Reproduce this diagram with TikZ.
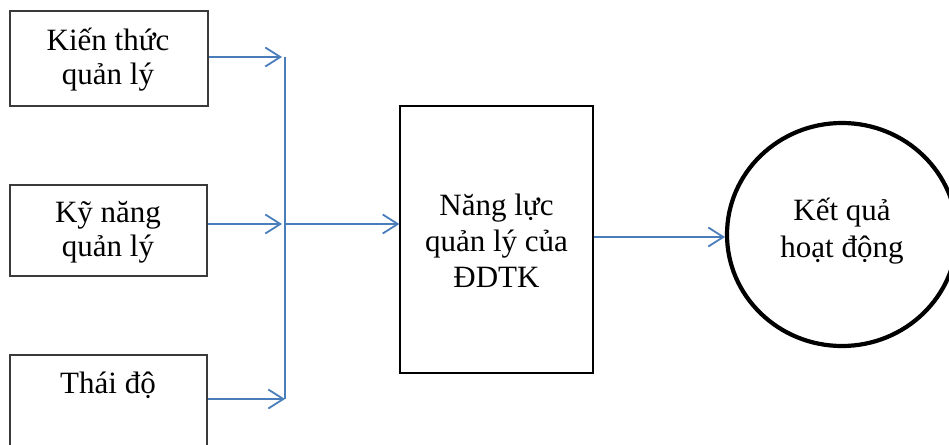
\documentclass[tikz,border=0pt]{standalone}
\usepackage{fontspec}
\setmainfont{Liberation Serif}
\usetikzlibrary{arrows.meta}
\definecolor{linkblue}{HTML}{4A7EBB}
\definecolor{boxline}{HTML}{3A3A3A}
\tikzset{
  box/.style={draw=boxline, line width=1.3pt, rectangle, inner sep=0pt},
  lbl/.style={anchor=base, inner sep=0pt, font=\fontsize{31}{35}\selectfont},
  link/.style={draw=linkblue, line width=1.8pt},
  arr/.style={link, -{Straight Barb[length=15pt,width=19pt,line width=1.8pt]}},
}
\begin{document}
\begin{tikzpicture}[x=1pt, y=-1pt]
  \useasboundingbox (0,0) rectangle (949,444);

  % input boxes
  \node[box, minimum width=198pt, minimum height=95pt] (b1) at (109,58.5) {};
  \node[box, minimum width=197pt, minimum height=91pt] (b2) at (108.5,230.5) {};
  \node[box, minimum width=197pt, minimum height=97pt] (b3) at (108.5,403.5) {};
  \node[lbl] (b1a) at (108,50) {Kiến thức};
  \node[lbl] (b1b) at (108,84) {quản lý};
  \node[lbl] (b2a) at (108,222) {Kỹ năng};
  \node[lbl] (b2b) at (108,256) {quản lý};
  \node[lbl] (b3a) at (108,393) {Thái độ};

  % central box
  \node[box, line width=1.2pt, draw=black, minimum width=193pt, minimum height=267pt] (mid) at (496.5,239.5) {};
  \node[lbl] (ma) at (496.5,215) {Năng lực};
  \node[lbl] (mb) at (496.5,251) {quản lý của};
  \node[lbl] (mc) at (496.5,287) {ĐDTK};

  % result
  \draw[line width=4.2pt] (842,234.5) ellipse [x radius=115, y radius=111.5];
  \coordinate (res) at (727,237);
  \node[lbl] (ra) at (842,220) {Kết quả};
  \node[lbl] (rb) at (842,257) {hoạt động};

  % collecting bus
  \coordinate (bt) at (285,57);
  \coordinate (bm) at (285,224);
  \coordinate (bb) at (285,399);
  \draw[link] (bt) -- (bb);

  \draw[arr] (b1.east |- bt) -- ([xshift=-3pt]bt);
  \draw[arr] (b2.east |- bm) -- ([xshift=-3pt]bm);
  \draw[arr] (b3.east |- bb) -- (bb);
  \draw[arr] (bm) -- (mid.west |- bm);
  \draw[arr] (mid.east |- res) -- ([xshift=-2pt]res);
\end{tikzpicture}
\end{document}
